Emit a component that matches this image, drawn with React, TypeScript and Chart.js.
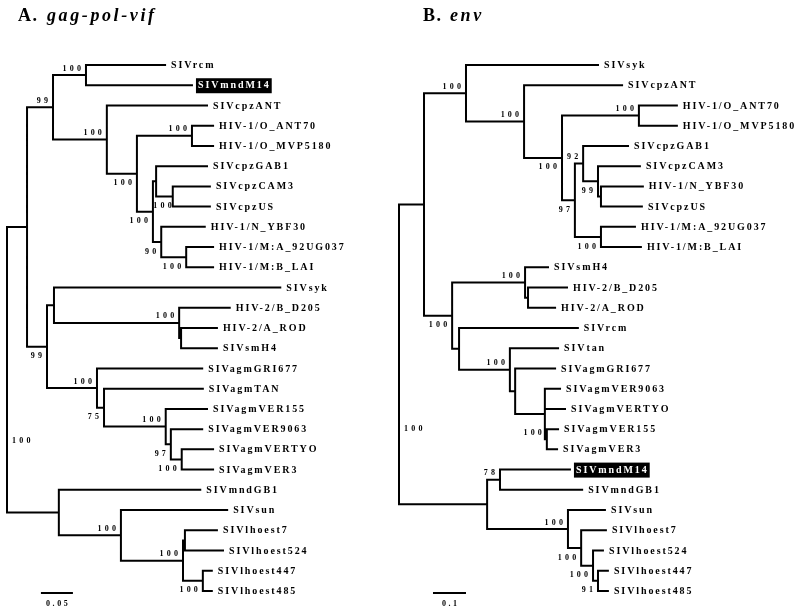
import React, { useEffect, useRef } from "react";
import { Chart, registerables } from "chart.js";
Chart.register(...registerables);

// ---------- Tree A: gag-pol-vif ----------
const titleA = ["A.", "gag-pol-vif"];
const leavesA = ["SIVrcm", "SIVmndM14", "SIVcpzANT", "HIV-1/O_ANT70", "HIV-1/O_MVP5180", "SIVcpzGAB1", "SIVcpzCAM3", "SIVcpzUS", "HIV-1/N_YBF30", "HIV-1/M:A_92UG037", "HIV-1/M:B_LAI", "SIVsyk", "HIV-2/B_D205", "HIV-2/A_ROD", "SIVsmH4", "SIVagmGRI677", "SIVagmTAN", "SIVagmVER155", "SIVagmVER9063", "SIVagmVERTYO", "SIVagmVER3", "SIVmndGB1", "SIVsun", "SIVlhoest7", "SIVlhoest524", "SIVlhoest447", "SIVlhoest485"];
const leafDepthA = [0.247, 0.289, 0.3125, 0.322, 0.322, 0.3125, 0.317, 0.317, 0.309, 0.322, 0.322, 0.427, 0.348, 0.328, 0.328, 0.305, 0.306, 0.3125, 0.305, 0.322, 0.322, 0.302, 0.344, 0.328, 0.3375, 0.32, 0.32];
const nodeIdA = ["root", "a1", "a2", "rcm", "cpz", "hiv1cpz", "O", "x", "gab", "camus", "nm", "M", "sykagm", "syk", "hiv2", "rod", "agm", "tanver", "ver", "v2", "v3", "mnd", "sun", "lh", "lh7", "lh447"];
const nodeDepthA = [0, 0.0313, 0.0719, 0.1234, 0.156, 0.203, 0.289, 0.228, 0.233, 0.259, 0.241, 0.28, 0.0625, 0.0734, 0.269, 0.272, 0.1406, 0.1516, 0.248, 0.256, 0.273, 0.081, 0.178, 0.275, 0.278, 0.306];
const nodeKidsA = [
  ["a1", "mnd"], ["a2", "sykagm"], ["rcm", "cpz"], ["SIVrcm", "SIVmndM14"],
  ["SIVcpzANT", "hiv1cpz"], ["O", "x"], ["HIV-1/O_ANT70", "HIV-1/O_MVP5180"],
  ["gab", "nm"], ["SIVcpzGAB1", "camus"], ["SIVcpzCAM3", "SIVcpzUS"],
  ["HIV-1/N_YBF30", "M"], ["HIV-1/M:A_92UG037", "HIV-1/M:B_LAI"],
  ["syk", "agm"], ["SIVsyk", "hiv2"], ["HIV-2/B_D205", "rod"], ["HIV-2/A_ROD", "SIVsmH4"],
  ["SIVagmGRI677", "tanver"], ["SIVagmTAN", "ver"], ["SIVagmVER155", "v2"],
  ["SIVagmVER9063", "v3"], ["SIVagmVERTYO", "SIVagmVER3"],
  ["SIVmndGB1", "sun"], ["SIVsun", "lh"], ["lh7", "lh447"],
  ["SIVlhoest7", "SIVlhoest524"], ["SIVlhoest447", "SIVlhoest485"],
];
const bootA = [100, null, 99, 100, 100, 100, 100, 100, null, 100, 90, 100, 99, null, 100, null, 100, 75, 100, 97, 100, null, 100, 100, null, 100];
const bootSideA = ["root", "", "above", "above", "above", "below", "above", "below", "", "below", "below", "below", "below", "", "above", "", "above", "below", "above", "below", "below", "", "above", "above", "", "below"];
const bootNudgeA = [0, 0, 0, 0, 0, 0, 0, 0, 0, 4, 0, 0, 0, 0, 0, 0, 0, 0, 0, 0, 0, 0, 0, 0, 0, 0];
const scaleBarA = 0.05;
const scaleLabelA = "0.05";

// ---------- Tree B: env ----------
const titleB = ["B.", "env"];
const leavesB = ["SIVsyk", "SIVcpzANT", "HIV-1/O_ANT70", "HIV-1/O_MVP5180", "SIVcpzGAB1", "SIVcpzCAM3", "HIV-1/N_YBF30", "SIVcpzUS", "HIV-1/M:A_92UG037", "HIV-1/M:B_LAI", "SIVsmH4", "HIV-2/B_D205", "HIV-2/A_ROD", "SIVrcm", "SIVtan", "SIVagmGRI677", "SIVagmVER9063", "SIVagmVERTYO", "SIVagmVER155", "SIVagmVER3", "SIVmndM14", "SIVmndGB1", "SIVsun", "SIVlhoest7", "SIVlhoest524", "SIVlhoest447", "SIVlhoest485"];
const leafDepthB = [0.603, 0.676, 0.842, 0.842, 0.694, 0.73, 0.739, 0.736, 0.715, 0.733, 0.4515, 0.509, 0.473, 0.542, 0.482, 0.473, 0.488, 0.503, 0.482, 0.479, 0.518, 0.555, 0.624, 0.627, 0.618, 0.633, 0.633];
const nodeIdB = ["root", "b1", "syk", "cpz", "hiv1", "O", "n97", "n92", "n99", "ybfus", "M", "hiv2agm", "hiv2", "d205rod", "rcmagm", "tanagm", "agm", "ver", "v", "mnd", "mnd2", "sunlh", "lh", "lh2", "lh3"];
const nodeDepthB = [0, 0.0758, 0.203, 0.379, 0.494, 0.727, 0.533, 0.558, 0.603, 0.612, 0.612, 0.161, 0.382, 0.391, 0.182, 0.336, 0.352, 0.442, 0.448, 0.267, 0.306, 0.512, 0.552, 0.588, 0.603];
const nodeKidsB = [
  ["b1", "mnd"], ["syk", "hiv2agm"], ["SIVsyk", "cpz"], ["SIVcpzANT", "hiv1"],
  ["O", "n97"], ["HIV-1/O_ANT70", "HIV-1/O_MVP5180"], ["n92", "M"],
  ["SIVcpzGAB1", "n99"], ["SIVcpzCAM3", "ybfus"], ["HIV-1/N_YBF30", "SIVcpzUS"],
  ["HIV-1/M:A_92UG037", "HIV-1/M:B_LAI"], ["hiv2", "rcmagm"], ["SIVsmH4", "d205rod"],
  ["HIV-2/B_D205", "HIV-2/A_ROD"], ["SIVrcm", "tanagm"], ["SIVtan", "agm"],
  ["SIVagmGRI677", "ver"], ["SIVagmVER9063", "SIVagmVERTYO", "v"],
  ["SIVagmVER155", "SIVagmVER3"], ["mnd2", "sunlh"], ["SIVmndM14", "SIVmndGB1"],
  ["SIVsun", "lh"], ["SIVlhoest7", "lh2"], ["SIVlhoest524", "lh3"],
  ["SIVlhoest447", "SIVlhoest485"],
];
const bootB = [100, null, 100, 100, 100, 100, 97, 92, 99, null, 100, 100, 100, null, null, 100, null, null, 100, null, 78, 100, 100, 100, 91];
const bootSideB = ["root", "", "above", "above", "below", "above", "below", "above", "below", "", "below", "below", "above", "", "", "above", "", "", "above", "", "above", "above", "below", "below", "below"];
const bootNudgeB = [0, 0, 0, 0, 0, 0, 0, 0, 0, 0, 0, 0, 0, 0, 0, 0, 0, 0, 0, 0, 0, 0, 0, 0, 0];
const scaleBarB = 0.1;
const scaleLabelB = "0.1";

const highlighted = "SIVmndM14";

// ---------- layout constants ----------
const W = 800, H = 612;
const LEAF_TOP = 65, LEAF_STEP = 20.23;
const PX_UNIT_A = 640, ROOT_PX_A = 7;
const PX_UNIT_B = 330, ROOT_PX_B = 399;
const SERIF = "'Liberation Serif', 'Times New Roman', serif";
const LEAF_SP = 1.9;
const BOOT_SP = 3.2;

type P = { x: number; y: number | null };

function buildTree(leaves: string[], leafDepth: number[], ids: string[], depth: number[], kids: string[][]) {
  const pos: Record<string, { x: number; y: number }> = {};
  leaves.forEach((n, i) => { pos[n] = { x: leafDepth[i], y: i }; });
  const place = (id: string): { x: number; y: number } => {
    if (pos[id]) return pos[id];
    const k = ids.indexOf(id);
    const cs = kids[k].map(place);
    pos[id] = { x: depth[k], y: (cs[0].y + cs[cs.length - 1].y) / 2 };
    return pos[id];
  };
  place(ids[0]);
  const pts: P[] = [];
  ids.forEach((id, k) => {
    const n = pos[id];
    const cs = kids[k].map((c) => pos[c]);
    const f = cs[0], l = cs[cs.length - 1];
    pts.push({ x: f.x, y: f.y }, { x: n.x, y: f.y }, { x: n.x, y: l.y }, { x: l.x, y: l.y }, { x: n.x, y: null });
    cs.slice(1, -1).forEach((c) => pts.push({ x: n.x, y: c.y }, { x: c.x, y: c.y }, { x: n.x, y: null }));
  });
  return { pos, pts };
}

const treeA = buildTree(leavesA, leafDepthA, nodeIdA, nodeDepthA, nodeKidsA);
const treeB = buildTree(leavesB, leafDepthB, nodeIdB, nodeDepthB, nodeKidsB);

const trees = [
  { axis: "xA", t: treeA, leaves: leavesA, ids: nodeIdA, kids: nodeKidsA, boot: bootA, side: bootSideA, nudge: bootNudgeA, title: titleA, titleX: 18, italicX: 47, bar: scaleBarA, barLabel: scaleLabelA, barStart: 0.053 },
  { axis: "xB", t: treeB, leaves: leavesB, ids: nodeIdB, kids: nodeKidsB, boot: bootB, side: bootSideB, nudge: bootNudgeB, title: titleB, titleX: 423, italicX: 450, bar: scaleBarB, barLabel: scaleLabelB, barStart: 0.103 },
];

const BAR_Y = (593 - LEAF_TOP) / LEAF_STEP;

function drawSpaced(ctx: CanvasRenderingContext2D, text: string, x: number, y: number, spacing: number) {
  (ctx as any).letterSpacing = spacing + "px";
  ctx.fillText(text, x, y);
  (ctx as any).letterSpacing = "0px";
}
function widthSpaced(ctx: CanvasRenderingContext2D, text: string, spacing: number) {
  (ctx as any).letterSpacing = spacing + "px";
  const w = ctx.measureText(text).width;
  (ctx as any).letterSpacing = "0px";
  return w - spacing;
}

const textPlugin = {
  id: "treeText",
  afterDatasetsDraw(chart: any) {
    const ctx: CanvasRenderingContext2D = chart.ctx;
    const ys = chart.scales.y;
    ctx.save();
    ctx.fillStyle = "#000";
    trees.forEach((tr) => {
      const xs = chart.scales[tr.axis];
      // titles
      ctx.textBaseline = "alphabetic";
      ctx.textAlign = "left";
      ctx.font = `bold 18px ${SERIF}`;
      drawSpaced(ctx, tr.title[0], tr.titleX, 21, 1.5);
      ctx.font = `italic bold 18px ${SERIF}`;
      drawSpaced(ctx, tr.title[1], tr.italicX, 21, 2.6);
      // leaf labels
      ctx.font = `bold 10px ${SERIF}`;
      ctx.textBaseline = "middle";
      tr.leaves.forEach((name) => {
        const p = tr.t.pos[name];
        const px = xs.getPixelForValue(p.x);
        const py = ys.getPixelForValue(p.y) + 0.5;
        if (name === highlighted) {
          const w = widthSpaced(ctx, name, LEAF_SP);
          ctx.fillStyle = "#000";
          ctx.fillRect(px + 4, py - 7.5, w + 5, 15);
          ctx.fillStyle = "#fff";
          drawSpaced(ctx, name, px + 6, py, LEAF_SP);
          ctx.fillStyle = "#000";
        } else {
          drawSpaced(ctx, name, px + 6, py, LEAF_SP);
        }
      });
      // bootstrap values
      ctx.font = `bold 8px ${SERIF}`;
      tr.ids.forEach((id, k) => {
        const v = tr.boot[k];
        if (v == null) return;
        const txt = String(v);
        const n = tr.t.pos[id];
        const px = xs.getPixelForValue(n.x) + tr.nudge[k];
        const py = ys.getPixelForValue(n.y);
        const w = widthSpaced(ctx, txt, BOOT_SP);
        if (tr.side[k] === "root") {
          const cs = tr.kids[k].map((c) => tr.t.pos[c]);
          const y0 = ys.getPixelForValue(cs[0].y), y1 = ys.getPixelForValue(cs[cs.length - 1].y);
          drawSpaced(ctx, txt, px + 5, py + 0.25 * (y1 - y0), BOOT_SP);
        } else if (tr.side[k] === "above") {
          drawSpaced(ctx, txt, px - 5 - w, py - 6.5, BOOT_SP);
        } else {
          drawSpaced(ctx, txt, px - 5 - w, py + 9.5, BOOT_SP);
        }
      });
      // scale bar label
      const b0 = xs.getPixelForValue(tr.barStart), b1 = xs.getPixelForValue(tr.barStart + tr.bar);
      const bw = widthSpaced(ctx, tr.barLabel, 2.6);
      drawSpaced(ctx, tr.barLabel, (b0 + b1) / 2 - bw / 2, ys.getPixelForValue(BAR_Y) + 11, 2.6);
    });
    ctx.restore();
  },
};

export default function App() {
  const ref = useRef<HTMLCanvasElement>(null);
  useEffect(() => {
    const lineStyle = { showLine: true, pointRadius: 0, pointHoverRadius: 0, borderColor: "#000", borderWidth: 2, spanGaps: false, borderJoinStyle: "miter" as const, borderCapStyle: "square" as const, yAxisID: "y" };
    const xminA = -ROOT_PX_A / PX_UNIT_A;
    const xminB = -ROOT_PX_B / PX_UNIT_B;
    const ymin = -LEAF_TOP / LEAF_STEP;
    const chart = new Chart(ref.current!, {
      type: "scatter",
      data: {
        datasets: [
          { ...lineStyle, label: "gag-pol-vif", data: treeA.pts as any, xAxisID: "xA" },
          { ...lineStyle, label: "env", data: treeB.pts as any, xAxisID: "xB" },
          { ...lineStyle, borderCapStyle: "butt" as const, label: "scaleA", data: [{ x: trees[0].barStart, y: BAR_Y }, { x: trees[0].barStart + scaleBarA, y: BAR_Y }], xAxisID: "xA" },
          { ...lineStyle, borderCapStyle: "butt" as const, label: "scaleB", data: [{ x: trees[1].barStart, y: BAR_Y }, { x: trees[1].barStart + scaleBarB, y: BAR_Y }], xAxisID: "xB" },
        ] as any,
      },
      options: {
        animation: false,
        responsive: false,
        events: [],
        layout: { padding: 0 },
        plugins: { legend: { display: false }, tooltip: { enabled: false }, title: { display: false } },
        scales: {
          xA: { type: "linear", axis: "x", display: false, min: xminA, max: xminA + W / PX_UNIT_A },
          xB: { type: "linear", axis: "x", display: false, min: xminB, max: xminB + W / PX_UNIT_B },
          y: { type: "linear", display: false, reverse: true, min: ymin, max: ymin + H / LEAF_STEP },
        } as any,
      },
      plugins: [textPlugin],
    });
    return () => chart.destroy();
  }, []);
  return (
    <div style={{ position: "absolute", left: 0, top: 0, width: W, height: H, background: "#fff" }}>
      <canvas ref={ref} width={W} height={H} style={{ display: "block" }} />
    </div>
  );
}
